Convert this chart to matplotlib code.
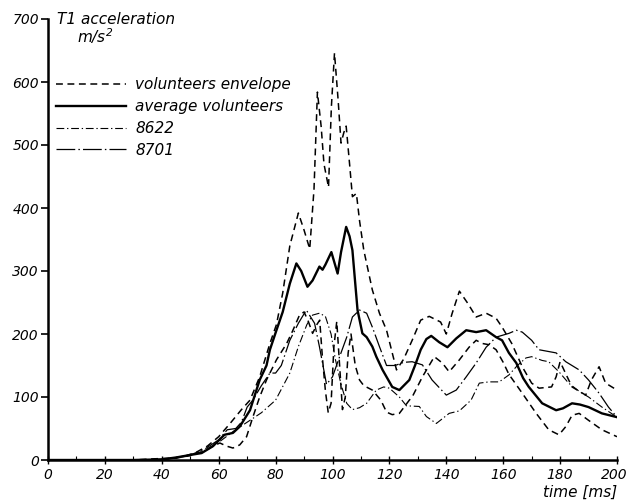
import matplotlib
matplotlib.use("Agg")
import matplotlib.pyplot as plt
from matplotlib.ticker import MultipleLocator
from matplotlib.transforms import ScaledTranslation

plt.rcParams["font.family"] = ["DejaVu Sans"]
plt.rcParams["font.style"] = "italic"
plt.rcParams["mathtext.fontset"] = "dejavusans"

# --- T1 acceleration traces (time in ms, acceleration in m/s^2) ---
env_hi_t = [0, 10, 20, 30, 38, 44, 48, 52, 56, 60, 64, 68, 71, 74.4, 78, 80.3, 82.5, 85, 88,
            90, 92, 93.5, 94.7, 96, 97, 98.6, 99.6, 100.7, 102, 103, 104, 104.8, 106, 107,
            108.4, 109.5, 111, 114, 116.5, 119, 122.5, 125, 128, 131, 134, 138, 140, 142,
            144.6, 147.5, 150.5, 154, 157.5, 159.6, 163, 166.7, 170, 172.6, 177, 178.6,
            180, 182.5, 184.2, 189, 191, 193.7, 196, 200]
env_hi_a = [0, 0, 0, 0, 2, 3, 6, 12, 22, 37, 58, 80, 95, 132, 185, 215, 265, 340, 392,
            365, 335, 430, 584, 530, 470, 433, 560, 646, 570, 503, 520, 530, 470, 418,
            423, 380, 333, 270, 233, 206, 143, 160, 190, 222, 228, 219, 200, 232,
            268, 249, 227, 233, 225, 211, 185, 148, 122, 114, 116, 132,
            156, 132, 116, 103, 127, 148, 122, 111]

env_lo_t = [0, 10, 20, 30, 40, 45, 50, 55, 58, 60.4, 62.8, 65, 67.4, 69.8, 72, 74.4, 76.8,
            80.3, 83.9, 86, 88.4, 90, 91.5, 93, 94.5, 95.5, 96.5, 97.5, 98.5, 99.5, 100.5,
            101.5, 102.5, 103.5, 104.5, 105.5, 106.5, 108, 109.5, 111, 114, 117, 119, 121,
            123.5, 127, 128, 131.6, 135.8, 138.6, 141, 144.6, 148, 150.5, 152.6, 155,
            157.5, 160, 162, 166.7, 171.6, 176, 179.6, 182, 184.2, 186.7, 190, 194.7, 200]
env_lo_a = [0, 0, 0, 0, 1, 3, 7, 14, 22, 27, 22, 19, 24, 37, 68, 100, 127,
            159, 185, 205, 230, 235, 220, 201, 215, 222, 160, 110, 75, 90, 180,
            220, 150, 80, 100, 170, 200, 150, 127, 118, 111, 95, 76, 72,
            74, 95, 100, 132, 164, 154, 140, 159, 179, 190, 185, 183,
            175, 155, 136, 106, 74, 48, 40, 53, 71, 74, 63, 48, 37]

avg_t = [0, 10, 20, 30, 40, 45, 50, 54, 58, 62, 65, 67.4, 71, 74.4, 76.8, 78, 80.3, 82.5,
         85, 87.3, 89, 91.2, 93, 95.4, 96.5, 97.5, 99.6, 101.8, 103, 104.8, 106, 107, 108,
         108.8, 110.5, 112, 114, 115.4, 117.6, 121, 123.5, 127, 129, 131, 133, 134.7,
         137.5, 140.4, 143.5, 147, 150.5, 154, 157.5, 159.6, 162, 164.6, 167, 169, 173.7,
         178.6, 181, 184.2, 187, 190, 194.7, 200]
avg_a = [0, 0, 0, 0, 1, 4, 8, 11, 22, 40, 43, 53, 79, 127, 150, 175, 206, 235,
         280, 312, 300, 275, 285, 307, 302, 310, 330, 296, 330, 370, 355, 333, 280,
         238, 201, 195, 180, 164, 143, 116, 111, 127, 150, 175, 192, 197,
         187, 179, 193, 206, 203, 206, 195, 190, 170, 154, 130, 116, 90,
         79, 82, 90, 88, 84, 74, 68]

d8622_t = [0, 10, 20, 30, 40, 45, 50, 55, 60, 65, 70, 75, 80, 85, 88, 91, 93, 95.4, 97.5,
           99.5, 101, 103, 105, 107, 109.5, 112, 115.4, 118, 120, 123.5, 126, 130.5, 133,
           136.5, 141, 144.6, 148.7, 151.6, 155, 158.6, 162, 165, 168, 170, 173.7, 176,
           179.6, 183, 187, 190, 194.7, 200]
d8622_a = [0, 0, 0, 0, 1, 3, 7, 15, 28, 45, 60, 75, 95, 138, 180, 215, 230, 233, 228,
           200, 160, 120, 90, 80, 83, 90, 111, 116, 114, 100, 86, 85, 69,
           58, 74, 78, 95, 122, 124, 124, 135, 150, 162, 164, 158, 156,
           140, 122, 108, 100, 84, 68]

d8701_t = [0, 10, 20, 30, 40, 45, 50, 55, 60, 63, 66, 68, 70, 72, 75, 78, 80, 82, 85, 88,
           90.8, 93.7, 95.4, 97.9, 100, 102.5, 105, 107, 109.5, 112, 114, 116.5, 119, 122,
           125, 128, 131.6, 135, 140, 143.5, 147, 150.5, 154, 157.5, 162, 164.6, 166.7,
           170, 172.6, 178.6, 182, 186.7, 190, 193.7, 197, 200]
d8701_a = [0, 0, 0, 0, 1, 4, 8, 17, 32, 48, 50, 60, 84, 95, 118, 138, 138, 150, 190, 217,
           238, 217, 180, 120, 132, 164, 195, 227, 238, 233, 211, 180, 150, 150,
           155, 156, 151, 127, 103, 111, 132, 154, 179, 195, 201, 206, 203,
           190, 175, 170, 156, 143, 127, 106, 84, 68]

x_ticks = list(range(0, 201, 20))
y_ticks = list(range(0, 701, 100))

fig = plt.figure(figsize=(6.29, 5.04), dpi=100)
ax = fig.add_axes([48 / 629, 44 / 504, 569 / 629, 441 / 504])

env_style = dict(color="black", lw=1.1, linestyle=(0, (4.5, 3.0)))
ax.plot(env_hi_t, env_hi_a, label="volunteers envelope", **env_style)
ax.plot(env_lo_t, env_lo_a, **env_style)
ax.plot(avg_t, avg_a, color="black", lw=1.7, label="average volunteers")
ax.plot(d8622_t, d8622_a, color="black", lw=0.8,
        linestyle=(0, (7, 2.5, 1.2, 2.5)), label="8622")
ax.plot(d8701_t, d8701_a, color="black", lw=0.9,
        linestyle=(0, (15, 2.5, 1.2, 2.5)), label="8701")

ax.set_xlim(0, 200)
ax.set_ylim(0, 700)
ax.set_xticks(x_ticks)
ax.set_yticks(y_ticks)
ax.xaxis.set_minor_locator(MultipleLocator(10))
for s in ("top", "right"):
    ax.spines[s].set_visible(False)
for s in ("left", "bottom"):
    ax.spines[s].set_linewidth(1.8)

ax.tick_params(axis="y", direction="out", length=5, width=1.2, pad=1.5,
               labelsize=10)
ax.tick_params(axis="x", which="major", direction="inout", length=6, width=1.0,
               pad=3, labelsize=10)
ax.tick_params(axis="x", which="minor", direction="in", length=3, width=0.8)
for lab in ax.get_xticklabels() + ax.get_yticklabels():
    lab.set_fontstyle("italic")

# nudge the last x label so it stays inside the canvas
last = ax.get_xticklabels()[-1]
last.set_transform(last.get_transform() + ScaledTranslation(-3 / 100, 0, fig.dpi_scale_trans))

ax.text(0.016, 1.0, "T1 acceleration", transform=ax.transAxes, fontsize=11,
        ha="left", va="center")
ax.text(0.051, 0.962, r"$m/s^2$", transform=ax.transAxes, fontsize=11,
        ha="left", va="center")
ax.text(1.0, -0.073, "time [ms]", transform=ax.transAxes, fontsize=11,
        ha="right", va="center")

leg = ax.legend(loc="upper left", bbox_to_anchor=(0.014, 0.868), frameon=False,
                borderpad=0, borderaxespad=0, handlelength=4.6, handletextpad=0.6,
                labelspacing=0.45, prop=dict(size=11, style="italic"))

fig.savefig("out.png", dpi=100)
